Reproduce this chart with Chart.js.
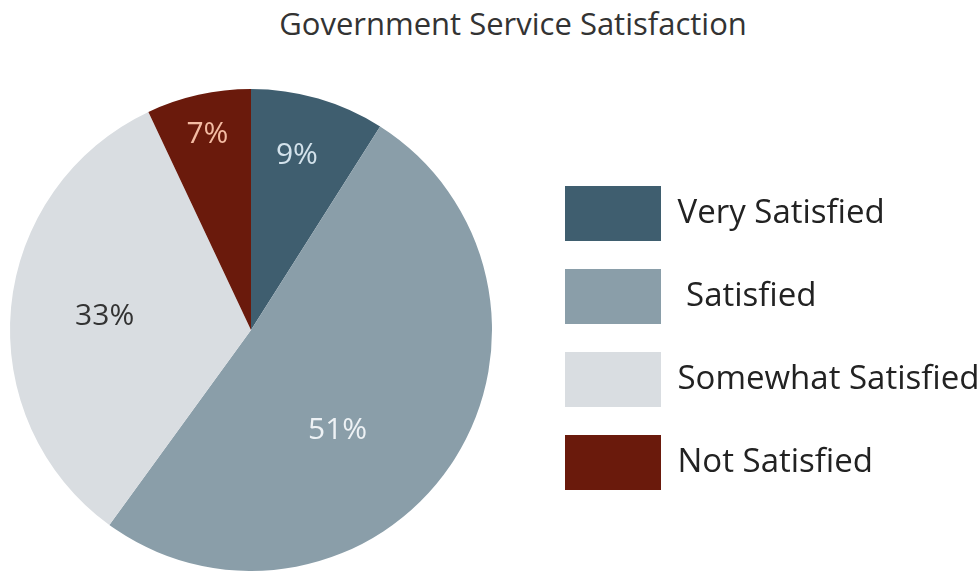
<!DOCTYPE html>
<html>
<head>
<meta charset="utf-8">
<script src="https://cdn.jsdelivr.net/npm/chart.js@4.4.1/dist/chart.umd.min.js"></script>
<style>
  html, body { margin: 0; padding: 0; background: #fff; width: 980px; height: 571px; overflow: hidden; position: relative; }
  #title {
    position: absolute; left: 0; top: 3px; width: 1026px; text-align: center;
    font-family: "Open Sans", sans-serif; font-size: 31px; line-height: 40px; color: #333;
  }
  #graph { position: absolute; left: -35px; top: 0; }
</style>
</head>
<body>
<div id="title">Government Service Satisfaction</div>
<canvas id="graph" width="1100" height="571"></canvas>
<script>
// Données
const categories = ["Very Satisfied", " Satisfied", "Somewhat Satisfied", "Not Satisfied"];
const shares = [9, 51, 33, 7];
const sliceColors = ["#3f5e6f", "#8a9ea9", "#d9dde1", "#6a1a0c"];
const labelColors = ["#d3e2eb", "#eef2f5", "#333333", "#f3bba3"];

const legendFont = { family: "Open Sans", size: 33 };
const box = { w: 96, h: 55, gap: 28 };

// Petits pourcentages dessinés sur chaque part
const sliceLabels = {
  id: "sliceLabels",
  afterDatasetsDraw(chart, args, opts) {
    const { ctx } = chart;
    const arcs = chart.getDatasetMeta(0).data;
    ctx.save();
    ctx.font = opts.font;
    ctx.textAlign = "center";
    ctx.textBaseline = "middle";
    arcs.forEach((arc, i) => {
      const { x, y, startAngle, endAngle, outerRadius } = arc.getProps(
        ["x", "y", "startAngle", "endAngle", "outerRadius"], true
      );
      const a = (startAngle + endAngle) / 2 + (opts.shift[i] * Math.PI) / 180;
      const r = outerRadius * opts.radius[i];
      ctx.fillStyle = labelColors[i];
      ctx.fillText(shares[i] + "%", x + Math.cos(a) * r, y + Math.sin(a) * r);
    });
    ctx.restore();
  },
};

// Largeur de la légende -> marge droite pour que la zone du camembert fasse 572px
const canvas = document.getElementById("graph");
const mctx = canvas.getContext("2d");
mctx.font = legendFont.size + 'px "' + legendFont.family + '"';
const textW = Math.max(...categories.map((c) => mctx.measureText(c).width));
const legendW = box.gap + box.w + legendFont.size / 2 + textW + 10;
const rightPad = Math.max(0, canvas.width - 572 - legendW);

const chart = new Chart(canvas, {
  type: "pie",
  data: {
    labels: categories,
    datasets: [{
      data: shares,
      backgroundColor: sliceColors,
      borderWidth: 0,
      hoverOffset: 0,
    }],
  },
  options: {
    responsive: false,
    animation: false,
    layout: { padding: { left: 0, top: 89, bottom: 0, right: rightPad } },
    plugins: {
      tooltip: { enabled: false },
      legend: {
        position: "right",
        align: "center",
        title: { display: true, text: "", font: { size: 10 }, padding: { top: 4, bottom: 0 } },
        labels: {
          boxWidth: box.w,
          boxHeight: box.h,
          padding: box.gap,
          color: "#222",
          font: legendFont,
        },
      },
      sliceLabels: {
        font: '30px "Open Sans"',
        radius: [0.75, 0.55, 0.61, 0.83],
        shift: [-1.5, 15, 0, 0],
      },
    },
  },
  plugins: [sliceLabels],
});
</script>
</body>
</html>
